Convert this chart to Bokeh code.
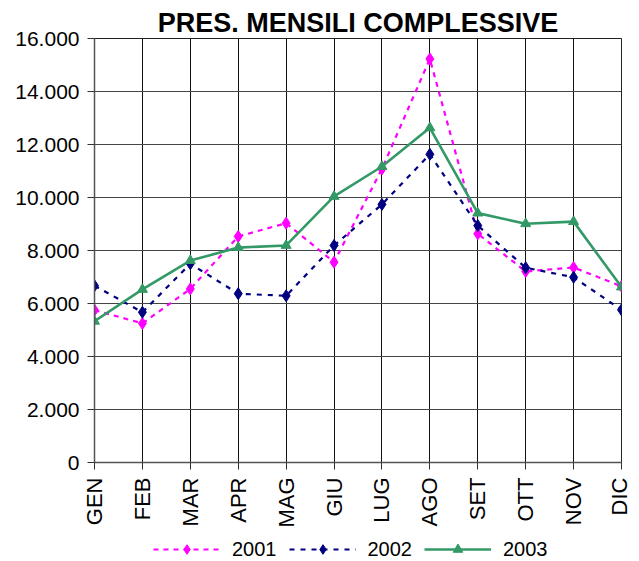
import math
from bokeh.plotting import figure
from bokeh.layouts import column
from bokeh.models import Range1d, FixedTicker, Legend, LegendItem
from bokeh.embed import file_html
from bokeh.resources import INLINE

months = ["GEN", "FEB", "MAR", "APR", "MAG", "GIU", "LUG", "AGO", "SET", "OTT", "NOV", "DIC"]
v2001 = [5750, 5250, 6550, 8530, 9030, 7560, 11080, 15230, 8630, 7210, 7360, 6650]
v2002 = [6670, 5670, 7500, 6370, 6290, 8190, 9740, 11630, 8940, 7350, 6990, 5760]
v2003 = [5330, 6530, 7620, 8110, 8190, 10040, 11170, 12630, 9410, 9010, 9090, 6620]
y_ticks = [0, 2000, 4000, 6000, 8000, 10000, 12000, 14000, 16000]
y_tick_labels = ["0", "2.000", "4.000", "6.000", "8.000", "10.000", "12.000", "14.000", "16.000"]
title_text = "PRES. MENSILI COMPLESSIVE"
series_names = ["2001", "2002", "2003"]

x = list(range(len(months)))
FONT = "Liberation Sans"
MAG = "#FF00FF"
NAVY = "#000080"
GREEN = "#339966"

p = figure(frame_width=527, frame_height=424, output_backend="svg", toolbar_location=None,
           x_range=Range1d(0, len(months) - 1), y_range=Range1d(0, 16000),
           min_border_left=94, min_border_right=10, min_border_top=38, min_border_bottom=62,
           background_fill_color="white", border_fill_color="white")

p.title.text = title_text
p.title.align = "center"
p.title.text_font = FONT
p.title.text_font_style = "bold"
p.title.text_font_size = "27px"
p.title.text_color = "black"
p.title.standoff = 2

p.outline_line_color = "#222222"
p.outline_line_width = 1

p.xaxis.ticker = FixedTicker(ticks=x)
p.xaxis.major_label_overrides = {i: m for i, m in enumerate(months)}
p.xaxis.major_label_orientation = math.pi / 2
p.yaxis.ticker = FixedTicker(ticks=y_ticks)
p.yaxis.major_label_overrides = {t: l for t, l in zip(y_ticks, y_tick_labels)}

for ax in (p.xaxis, p.yaxis):
    ax.major_label_text_font = FONT
    ax.major_label_text_color = "black"
    ax.axis_line_color = "#555555"
    ax.axis_line_width = 1.5
    ax.major_tick_line_color = "#333333"
    ax.major_tick_out = 7
    ax.major_tick_in = 0
    ax.minor_tick_line_color = None
    ax.major_label_standoff = 8
p.yaxis.major_label_text_font_size = "21px"
p.xaxis.major_label_text_font_size = "22px"

p.xgrid.grid_line_color = "#111111"
p.xgrid.grid_line_width = 1
p.ygrid.grid_line_color = "#444444"
p.ygrid.grid_line_width = 1.2

styles = [
    dict(color=MAG, dash="5 5", width=2.2, marker="diamond", size=12),
    dict(color=NAVY, dash="5 6", width=2.2, marker="diamond", size=12),
    dict(color=GREEN, dash="solid", width=2.6, marker="triangle", size=10),
]
for vals, st in zip([v2001, v2002, v2003], styles):
    p.line(x, vals, line_color=st["color"], line_width=st["width"], line_dash=st["dash"])
    p.scatter(x, vals, marker=st["marker"], size=st["size"], fill_color=st["color"], line_color=st["color"])

# legend strip below the chart (its frame is aligned with the chart's frame)
lf = figure(width=631, height=31, output_backend="svg", toolbar_location=None,
            x_range=Range1d(0, 1), y_range=Range1d(0, 1),
            min_border=0, outline_line_color=None,
            background_fill_color="white", border_fill_color="white")
lf.xaxis.visible = False
lf.yaxis.visible = False
lf.xgrid.visible = False
lf.ygrid.visible = False

items = []
for name, st in zip(series_names, styles):
    # legend proxies, placed outside the visible range
    lr = lf.line([-5, -4], [-5, -5], line_color=st["color"], line_width=st["width"], line_dash=st["dash"])
    mr = lf.scatter([-5], [-5], marker=st["marker"], size=st["size"], fill_color=st["color"], line_color=st["color"])
    items.append(LegendItem(label=name, renderers=[lr, mr]))

legend = Legend(items=items, orientation="horizontal", location=(59, 0))
legend.label_text_font = FONT
legend.label_text_font_size = "20px"
legend.label_text_color = "black"
legend.glyph_width = 67
legend.glyph_height = 24
legend.label_height = 24
legend.label_standoff = 12
legend.spacing = 12
legend.padding = 2
legend.margin = 0
legend.border_line_color = None
legend.background_fill_alpha = 0
lf.add_layout(legend, "center")

layout = column(p, lf, spacing=0)
open("out.html", "w").write(file_html(layout, INLINE))
